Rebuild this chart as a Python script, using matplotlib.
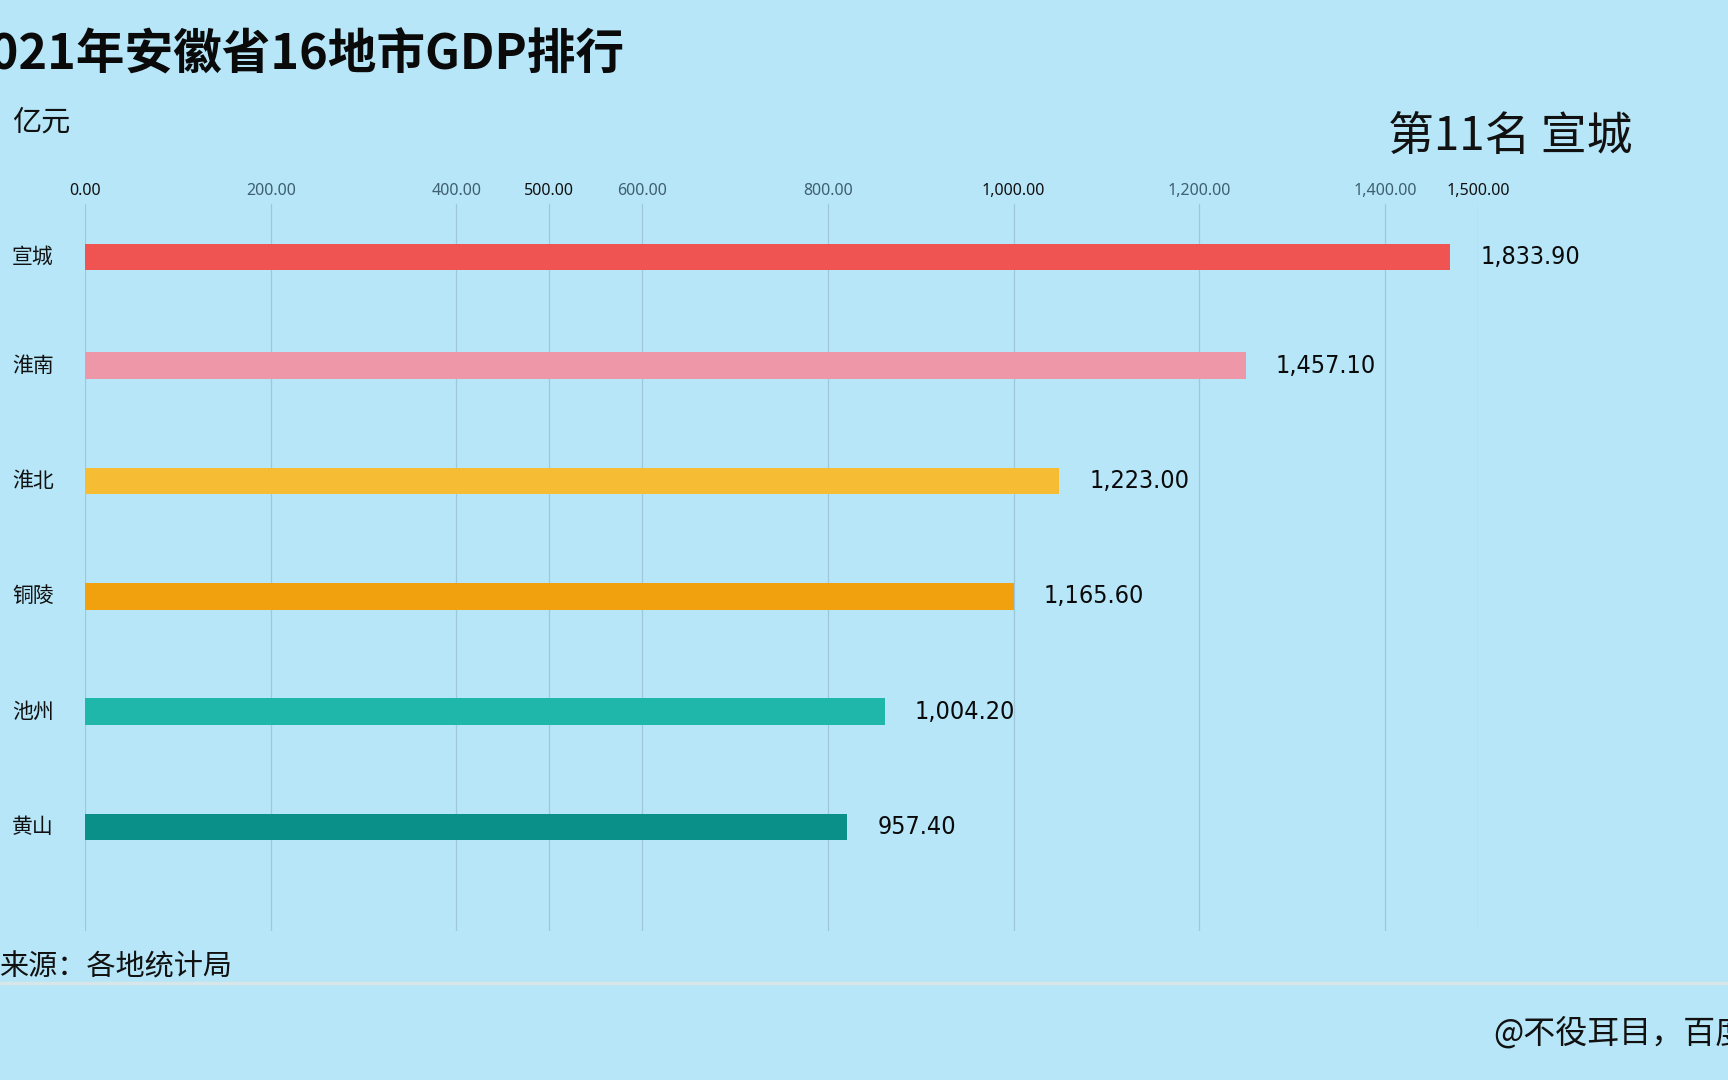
import matplotlib.pyplot as plt
import matplotlib.transforms as mtransforms

#%% data
cities = ['宣城', '淮南', '淮北', '铜陵', '池州', '黄山']
gdp_labels = [1833.90, 1457.10, 1223.00, 1165.60, 1004.20, 957.40]
# bar lengths as drawn in this frame of the race (bars still growing)
bar_now = [1470, 1250, 1049, 1000, 861, 821]
rank_now = [0.06, 1, 2, 3, 4, 5]
colors = ['#ef5453', '#ee97a9', '#f6bd34', '#f1a10d', '#1fb7a9', '#0a8f89']
ticks = [0, 200, 400, 500, 600, 800, 1000, 1200, 1400, 1500]
strong_ticks = [0, 500, 1000, 1500]

bg = '#b6e6f7'
plt.rcParams['font.family'] = ['Noto Sans CJK SC', 'DejaVu Sans']

W, H = 1728, 1080
fig = plt.figure(figsize=(W / 100, H / 100), dpi=100, facecolor=bg)
ax = fig.add_axes([85 / W, 1 - 931 / H, (1478 - 85) / W, (931 - 204) / H])
ax.set_facecolor(bg)

ax.barh(rank_now, bar_now, height=0.23, color=colors, zorder=3)
ax.set_xlim(0, 1500)
ax.set_ylim(5.9, -0.4)

for s in ax.spines.values():
    s.set_visible(False)
ax.xaxis.tick_top()
ax.set_xticks(ticks)
ax.set_xticklabels(['{:,.2f}'.format(t) for t in ticks])
ax.tick_params(axis='x', length=0, pad=3.5)
ax.set_yticks([])
for lab, t in zip(ax.get_xticklabels(), ticks):
    lab.set_family(['Noto Sans', 'DejaVu Sans'])
    lab.set_fontsize(11.5)
    lab.set_color('#111111' if t in strong_ticks else '#3f5f72')
ax.grid(axis='x', color='#9ec7d9', linewidth=0.9, zorder=0)

# value labels
for r, v, lab in zip(rank_now, bar_now, gdp_labels):
    ax.annotate('{:,.2f}'.format(lab), (v, r), xytext=(30, 0), textcoords='offset pixels',
                va='center', ha='left', fontsize=18, color='#0a0a0a',
                family=['DejaVu Sans'], fontstretch='condensed')

# city names on the left
tr = mtransforms.blended_transform_factory(fig.transFigure, ax.transData)
for r, c in zip(rank_now, cities):
    ax.text(12 / W, r, c, transform=tr, va='center', ha='left', fontsize=15, color='#111111')

#%% titles and notes
fig.text(624 / W, 1 - 55 / H, '2021年安徽省16地市GDP排行', ha='right', va='center',
         fontsize=35, fontweight='black', color='#0a0a0a')
fig.text(12 / W, 1 - 123 / H, '亿元', ha='left', va='center', fontsize=21, color='#111111')
fig.text(1632 / W, 1 - 137 / H, '第11名 宣城', ha='right', va='center', fontsize=33, color='#111111')
fig.text(232 / W, 1 - 968 / H, '来源：各地统计局', ha='right', va='center', fontsize=21, color='#111111')
fig.add_artist(plt.Line2D([0, 1], [1 - 983 / H, 1 - 983 / H], transform=fig.transFigure,
                          color='#d8e6ea', linewidth=2.5))
fig.text(1493 / W, 1 - 1033 / H, '@不役耳目，百度', ha='left', va='center', fontsize=23, color='#111111')

fig.savefig('out.png', dpi=100, facecolor=bg)
